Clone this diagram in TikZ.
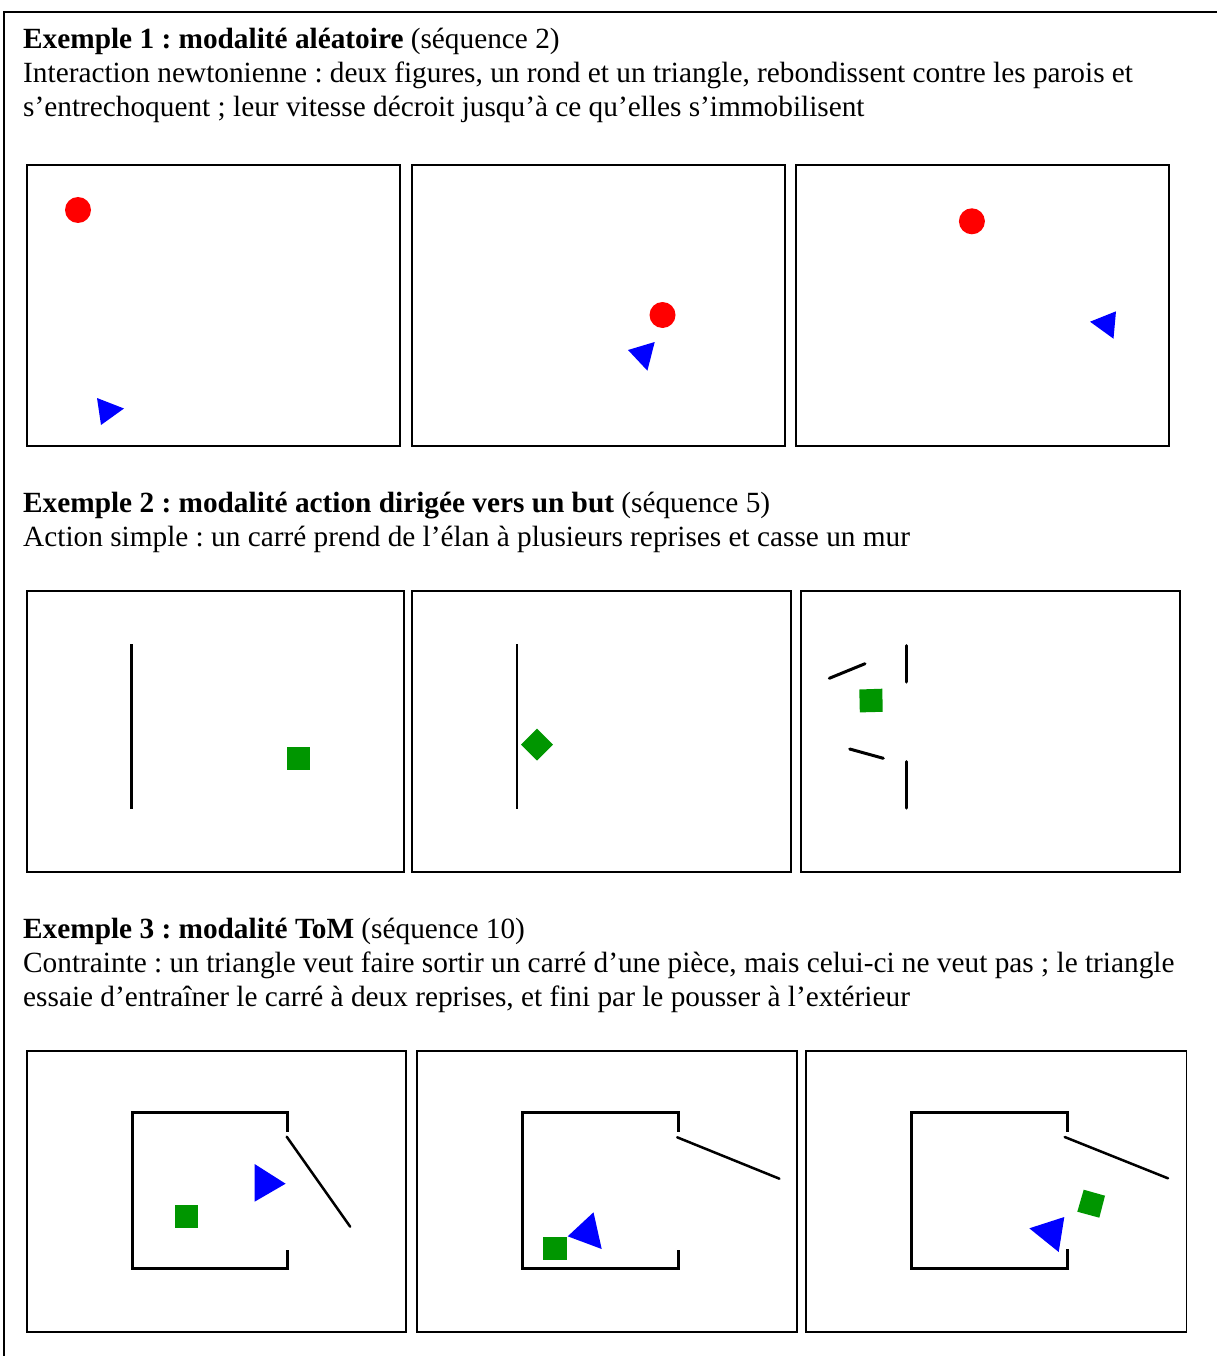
\documentclass[tikz,border=0pt]{standalone}
\usepackage{fontspec}
\setmainfont{Liberation Serif}
\frenchspacing
\definecolor{tred}{RGB}{255,0,0}
\definecolor{tblue}{RGB}{0,0,255}
\definecolor{tgreen}{RGB}{0,150,0}
\tikzset{
  txt/.style={anchor=base west,inner sep=0pt,font=\fontsize{29.3}{33.5}\selectfont},
  panel/.style={draw=black,line width=1.5pt},
  wall/.style={draw=black,line width=2.2pt},
  wallthick/.style={draw=black,line width=3pt,line cap=round},
  room/.style={draw=black,line width=3pt,line join=miter},
  frame/.style={draw=black,line width=2pt}
}
\begin{document}
\begin{tikzpicture}[x=1pt,y=-1pt]
\useasboundingbox (0,0) rectangle (1216,1356);
% outer frame
\draw[frame] (1217,12) -- (4,12) -- (4,1357);
% ---------- Example 1 text
\node[txt] (t1a) at (23,49) {\textbf{Exemple 1 : modalité aléatoire} (séquence 2)};
\node[txt] (t1b) at (23,83) {Interaction newtonienne : deux figures, un rond et un triangle, rebondissent contre les parois et};
\node[txt] (t1c) at (23,116.5) {s’entrechoquent ; leur vitesse décroit jusqu’à ce qu’elles s’immobilisent};
% panels row 1
\draw[panel] (27,165) rectangle (400,446);
\draw[panel] (412,165) rectangle (785,446);
\draw[panel] (796,165) rectangle (1169,446);
% panel 1.1
\fill[tred] (78,210) circle (13);
\fill[tblue] (97,398) -- (124,408.5) -- (101,425) -- cycle;
% panel 1.2
\fill[tred] (662.5,315) circle (13);
\fill[tblue] (628,350) -- (654.7,342) -- (647.4,370.7) -- cycle;
% panel 1.3
\fill[tred] (971.9,221.3) circle (13);
\fill[tblue] (1090,321.7) -- (1116,311.3) -- (1113.5,338.7) -- cycle;
% ---------- Example 2 text
\node[txt] (t2a) at (23,512) {\textbf{Exemple 2 : modalité action dirigée vers un but} (séquence 5)};
\node[txt] (t2b) at (23,546) {Action simple : un carré prend de l’élan à plusieurs reprises et casse un mur};
% panels row 2
\draw[panel] (27,591) rectangle (404,872);
\draw[panel] (412,591) rectangle (791,872);
\draw[panel] (801,591) rectangle (1180,872);
% panel 2.1
\draw[wall] (131.5,644.3) -- (131.5,808.7);
\fill[tgreen] (287,746.5) rectangle (310,769.5);
% panel 2.2
\draw[wall] (517,644.3) -- (517,808.7);
\fill[tgreen] (537,728.5) -- (553,744.7) -- (537,760.5) -- (521,744.7) -- cycle;
% panel 2.3
\draw[wallthick] (829.3,678.3) -- (865,663.7);
\draw[wallthick] (906.3,645.7) -- (906.3,682);
\draw[wallthick] (849.7,749) -- (883.3,758.3);
\draw[wallthick] (906.7,761.7) -- (906.7,808);
\fill[tgreen] (859.3,689.5) -- (882.3,688.7) -- (882.7,711.8) -- (859.8,712.4) -- cycle;
% ---------- Example 3 text
\node[txt] (t3a) at (23,938) {\textbf{Exemple 3 : modalité ToM} (séquence 10)};
\node[txt] (t3b) at (23,972) {Contrainte : un triangle veut faire sortir un carré d’une pièce, mais celui-ci ne veut pas ; le triangle};
\node[txt] (t3c) at (23,1006) {essaie d’entraîner le carré à deux reprises, et fini par le pousser à l’extérieur};
% panels row 3
\draw[panel] (27,1051) rectangle (406,1332);
\draw[panel] (417,1051) rectangle (797,1332);
\draw[panel] (806,1051) rectangle (1186.5,1332);
% panel 3.1
\draw[room] (287.7,1131.7) -- (287.7,1112) -- (132.2,1112) -- (132.2,1268) -- (287.7,1268) -- (287.7,1249.7);
\draw[wallthick,line width=2.5pt] (286.7,1136.7) -- (350.2,1226.7);
\fill[tblue] (254.6,1164) -- (285.6,1183.7) -- (254.6,1201.7) -- cycle;
\fill[tgreen] (175.1,1205.3) rectangle (197.8,1228.3);
% panel 3.2
\draw[room] (678.7,1131.7) -- (678.7,1112) -- (522.7,1112) -- (522.7,1268) -- (678.7,1268) -- (678.7,1249.7);
\draw[wallthick,line width=2.5pt] (677.2,1137.3) -- (779.4,1178.7);
\fill[tblue] (593.5,1212.3) -- (601.7,1249) -- (567.7,1236.3) -- cycle;
\fill[tgreen] (543.4,1236.7) rectangle (567.1,1259.7);
% panel 3.3
\draw[room] (1067.3,1131.7) -- (1067.3,1112) -- (911.3,1112) -- (911.3,1268) -- (1067.3,1268) -- (1067.3,1249.3);
\draw[wallthick,line width=2.5pt] (1064.7,1137) -- (1168,1178.3);
\fill[tgreen] (1083.7,1189.7) -- (1105,1195.7) -- (1099.3,1217.7) -- (1077.3,1211.7) -- cycle;
\fill[tblue] (1029.3,1228.3) -- (1064.3,1217) -- (1058.7,1252) -- cycle;
\end{tikzpicture}
\end{document}
